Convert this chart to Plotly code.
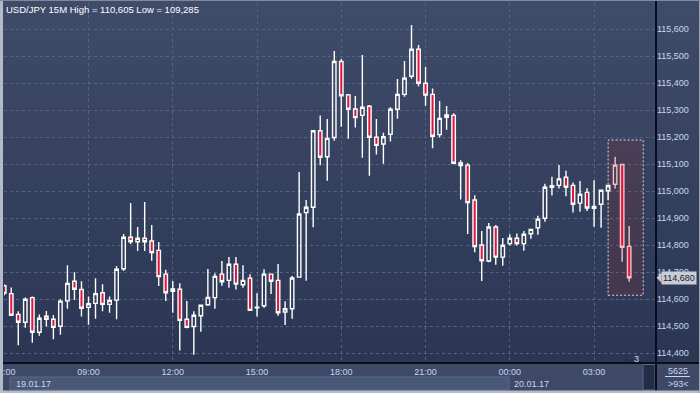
import pandas as pd
import plotly.graph_objects as go

# ---------------- data (USD/JPY 15M, 19.01.17 06:00 -> 20.01.17 04:15) ----------------
start_time = "2017-01-19 06:00"
opens = [114.650, 114.621, 114.544, 114.515, 114.606, 114.478, 114.537, 114.526, 114.500, 114.594,
         114.667, 114.636, 114.570, 114.585, 114.624, 114.581, 114.597, 114.713, 114.830, 114.813,
         114.826, 114.816, 114.781, 114.693, 114.630, 114.637, 114.526, 114.499, 114.539, 114.580,
         114.606, 114.693, 114.670, 114.730, 114.654, 114.678, 114.568, 114.576, 114.693, 114.670,
         114.553, 114.565, 114.682, 114.921, 114.941, 115.224, 115.128, 115.199, 115.481, 115.357,
         115.305, 115.281, 115.315, 115.200, 115.175, 115.211, 115.304, 115.359, 115.426, 115.526,
         115.400, 115.359, 115.210, 115.274, 115.281, 115.105, 115.097, 114.968, 114.801, 114.742,
         114.868, 114.756, 114.806, 114.826, 114.806, 114.843, 114.865, 114.900, 115.015, 115.022,
         115.052, 115.022, 114.956, 114.996, 114.937, 114.952, 115.002, 115.026, 115.099, 114.796]
highs = [114.655, 114.644, 114.556, 114.607, 114.610, 114.544, 114.557, 114.542, 114.600, 114.726,
         114.700, 114.667, 114.610, 114.678, 114.656, 114.610, 114.723, 114.842, 114.957, 114.868,
         114.960, 114.875, 114.812, 114.709, 114.668, 114.659, 114.594, 114.556, 114.580, 114.712,
         114.696, 114.742, 114.757, 114.757, 114.726, 114.693, 114.622, 114.711, 114.695, 114.731,
         114.593, 114.686, 115.071, 114.968, 115.225, 115.281, 115.268, 115.520, 115.490, 115.360,
         115.353, 115.505, 115.320, 115.268, 115.217, 115.311, 115.416, 115.483, 115.616, 115.542,
         115.460, 115.381, 115.334, 115.316, 115.289, 115.115, 115.105, 114.985, 114.853, 114.883,
         114.875, 114.827, 114.841, 114.844, 114.853, 114.860, 114.909, 115.028, 115.054, 115.097,
         115.076, 115.033, 115.038, 115.011, 115.041, 115.005, 115.023, 115.128, 115.101, 114.871]
lows = [114.615, 114.540, 114.430, 114.495, 114.439, 114.465, 114.499, 114.452, 114.469, 114.565,
        114.597, 114.536, 114.506, 114.528, 114.556, 114.550, 114.526, 114.705, 114.805, 114.779,
        114.779, 114.743, 114.649, 114.594, 114.550, 114.410, 114.493, 114.395, 114.480, 114.576,
        114.565, 114.650, 114.643, 114.636, 114.643, 114.557, 114.536, 114.569, 114.620, 114.539,
        114.505, 114.528, 114.680, 114.669, 114.867, 115.096, 115.039, 115.187, 115.239, 115.195,
        115.236, 115.124, 115.058, 115.136, 115.102, 115.184, 115.269, 115.350, 115.417, 115.389,
        115.317, 115.159, 115.199, 115.228, 115.100, 114.970, 114.842, 114.774, 114.668, 114.737,
        114.728, 114.724, 114.799, 114.799, 114.780, 114.824, 114.839, 114.887, 114.984, 115.010,
        114.982, 114.921, 114.924, 114.927, 114.869, 114.865, 114.968, 115.010, 114.739, 114.665]
closes = [114.622, 114.541, 114.515, 114.600, 114.478, 114.530, 114.526, 114.496, 114.593, 114.659,
          114.637, 114.567, 114.584, 114.621, 114.581, 114.596, 114.711, 114.830, 114.813, 114.826,
          114.813, 114.773, 114.684, 114.624, 114.638, 114.522, 114.496, 114.541, 114.578, 114.607,
          114.685, 114.665, 114.730, 114.656, 114.670, 114.559, 114.571, 114.693, 114.667, 114.550,
          114.565, 114.679, 114.916, 114.941, 115.224, 115.126, 115.196, 115.481, 115.354, 115.304,
          115.273, 115.311, 115.200, 115.170, 115.202, 115.304, 115.359, 115.419, 115.526, 115.400,
          115.356, 115.204, 115.270, 115.283, 115.104, 115.095, 114.958, 114.795, 114.743, 114.868,
          114.756, 114.800, 114.826, 114.806, 114.841, 114.859, 114.897, 115.015, 115.021, 115.046,
          115.015, 114.952, 114.989, 114.938, 114.944, 115.004, 115.022, 115.097, 114.793, 114.680]
highlight_count = 3  # last candles inside the highlighted box

x_tick_vals = ["2017-01-19 06:00", "2017-01-19 09:00", "2017-01-19 12:00", "2017-01-19 15:00",
               "2017-01-19 18:00", "2017-01-19 21:00", "2017-01-20 00:00", "2017-01-20 03:00"]
x_tick_text = ["06:00", "09:00", "12:00", "15:00", "18:00", "21:00", "00:00", "03:00"]
y_tick_vals = [114.4, 114.5, 114.6, 114.7, 114.8, 114.9, 115.0, 115.1, 115.2, 115.3, 115.4, 115.5, 115.6]
y_tick_text = ["114,400", "114,500", "114,600", "114,700", "114,800", "114,900", "115,000",
               "115,100", "115,200", "115,300", "115,400", "115,500", "115,600"]
title_text = "USD/JPY 15M High = 110,605 Low = 109,285"
date_labels = ["19.01.17", "20.01.17"]
corner_top, corner_bottom = "5625", ">93<"
count_label = "3"

times = pd.date_range(start=start_time, periods=len(opens), freq="15min")

# ---------------- geometry helpers ----------------
WIDTH, HEIGHT = 700, 393
ML, MT, MR, MB = 4, 3, 44, 30
PW, PH = WIDTH - ML - MR, HEIGHT - MT - MB
Y_RANGE = [114.364, 115.6974]


def px(x):
    return (x - ML) / PW


def py(y):
    return (MT + PH - y) / PH


FONT = "Liberation Sans"
LABEL_COL = "#c8d6f0"
RED = "#e2163c"
PINK = "#f4c2c6"

n_main = len(opens) - highlight_count
fig = go.Figure()
fig.add_trace(go.Candlestick(
    x=times[:n_main], open=opens[:n_main], high=highs[:n_main], low=lows[:n_main], close=closes[:n_main],
    increasing=dict(line=dict(color="#ffffff", width=1.4), fillcolor="rgba(0,0,0,0)"),
    decreasing=dict(line=dict(color="#ffffff", width=1.4), fillcolor=RED),
    showlegend=False, hoverinfo="skip"))
fig.add_trace(go.Candlestick(
    x=times[n_main:], open=opens[n_main:], high=highs[n_main:], low=lows[n_main:], close=closes[n_main:],
    increasing=dict(line=dict(color=PINK, width=1.4), fillcolor="rgba(0,0,0,0)"),
    decreasing=dict(line=dict(color=PINK, width=1.4), fillcolor=RED),
    showlegend=False, hoverinfo="skip"))

shapes = []
# background gradient (chart + right axis area)
top_c, bot_c = (63, 76, 105), (42, 54, 84)
nb = 24
for i in range(nb):
    t = i / (nb - 1)
    c = tuple(round(top_c[k] + (bot_c[k] - top_c[k]) * t) for k in range(3))
    y0 = 363 * i / nb
    y1 = 363 * (i + 1) / nb + 0.5
    shapes.append(dict(type="rect", xref="paper", yref="paper", x0=px(0), x1=px(700),
                       y0=py(y1), y1=py(y0), fillcolor="rgb(%d,%d,%d)" % c, line_width=0, layer="below"))

# highlight box around last candles
shapes.append(dict(type="rect", xref="x", yref="y",
                   x0=times[n_main - 1], x1=times[-1] + pd.Timedelta(minutes=30),
                   y0=114.615, y1=115.19,
                   fillcolor="rgba(116,50,66,0.32)", line=dict(color="#e6d6dc", width=1, dash="2px,2px"),
                   layer="below"))

# date strip
shapes.append(dict(type="rect", xref="paper", yref="paper", x0=px(10), x1=px(509),
                   y0=py(390), y1=py(377), fillcolor="#4a5877", line=dict(color="#5c6a88", width=1),
                   layer="above"))
# scroll piece
shapes.append(dict(type="rect", xref="paper", yref="paper", x0=px(643), x1=px(655),
                   y0=py(390), y1=py(364.5), fillcolor="#232d45", line=dict(color="#5c6a88", width=1),
                   layer="above"))
# divider in the corner box
shapes.append(dict(type="line", xref="paper", yref="paper", x0=px(665), x1=px(690),
                   y0=py(376.5), y1=py(376.5), line=dict(color=LABEL_COL, width=1), layer="above"))
# little triangle next to the "3"
shapes.append(dict(type="path", xref="paper", yref="paper",
                   path="M %f %f L %f %f L %f %f Z" % (px(622.5), py(362.5), px(627), py(357),
                                                      px(631.5), py(362.5)),
                   fillcolor="#26314b", line_width=0, layer="above"))
# black separator lines
shapes.append(dict(type="line", xref="paper", yref="paper", x0=px(0), x1=px(700),
                   y0=py(363), y1=py(363), line=dict(color="#0a0e17", width=2), layer="above"))
shapes.append(dict(type="line", xref="paper", yref="paper", x0=px(656), x1=px(656),
                   y0=py(393), y1=py(0), line=dict(color="#0a0e17", width=2), layer="above"))
# outer frame
shapes.append(dict(type="rect", xref="paper", yref="paper", x0=px(0), x1=px(3),
                   y0=py(393), y1=py(0), fillcolor="#b3bbc9", line_width=0, layer="above"))
shapes.append(dict(type="rect", xref="paper", yref="paper", x0=px(0), x1=px(700),
                   y0=py(393), y1=py(390.5), fillcolor="#b3bbc9", line_width=0, layer="above"))
shapes.append(dict(type="rect", xref="paper", yref="paper", x0=px(699), x1=px(700),
                   y0=py(393), y1=py(0), fillcolor="#9aa3b4", line_width=0, layer="above"))
shapes.append(dict(type="rect", xref="paper", yref="paper", x0=px(0), x1=px(700),
                   y0=py(1), y1=py(0), fillcolor="#7f899c", line_width=0, layer="above"))

# last price tag pointer
last_close = closes[-1]
dy = 5 / (PH / (Y_RANGE[1] - Y_RANGE[0]))
shapes.append(dict(type="path", xref="paper", yref="y",
                   path="M %f %f L %f %f L %f %f Z" % (px(656.5), last_close, px(661.5), last_close + dy,
                                                      px(661.5), last_close - dy),
                   fillcolor="#c9ccd3", line_width=0, layer="above"))

annotations = [
    dict(text=title_text, xref="paper", yref="paper", x=px(4), y=py(9), xanchor="left", yanchor="middle",
         showarrow=False, font=dict(family=FONT, size=9.5, color="#ffffff")),
    dict(text=date_labels[0], xref="paper", yref="paper", x=px(14), y=py(383.5), xanchor="left",
         yanchor="middle", showarrow=False, font=dict(family=FONT, size=9, color=LABEL_COL)),
    dict(text=date_labels[1], xref="paper", yref="paper", x=px(512), y=py(383.5), xanchor="left",
         yanchor="middle", showarrow=False, font=dict(family=FONT, size=9, color=LABEL_COL)),
    dict(text=corner_top, xref="paper", yref="paper", x=px(678), y=py(370.5), xanchor="center",
         yanchor="middle", showarrow=False, font=dict(family=FONT, size=9, color=LABEL_COL)),
    dict(text=corner_bottom, xref="paper", yref="paper", x=px(678), y=py(383.5), xanchor="center",
         yanchor="middle", showarrow=False, font=dict(family=FONT, size=9, color=LABEL_COL)),
    dict(text=count_label, xref="paper", yref="paper", x=px(636), y=py(358.5), xanchor="center",
         yanchor="middle", showarrow=False, font=dict(family=FONT, size=9, color=LABEL_COL)),
    dict(text=("%.3f" % last_close).replace(".", ","), xref="paper", yref="y", x=px(661), y=last_close,
         xanchor="left", yanchor="middle", showarrow=False, bgcolor="#c9ccd3", borderpad=1,
         font=dict(family=FONT, size=9, color="#17213a")),
]

fig.update_layout(
    width=WIDTH, height=HEIGHT,
    margin=dict(l=ML, r=MR, t=MT, b=MB, pad=0),
    paper_bgcolor="#3d4967", plot_bgcolor="rgba(0,0,0,0)",
    font=dict(family=FONT, size=9, color=LABEL_COL),
    shapes=shapes, annotations=annotations,
    xaxis=dict(type="date", range=["2017-01-19 05:59:30", "2017-01-20 05:12:18"],
               tickvals=x_tick_vals, ticktext=x_tick_text, ticks="", showline=False, zeroline=False,
               showgrid=True, gridcolor="#56637f", gridwidth=1, griddash="3px,3px",
               rangeslider=dict(visible=False), tickfont=dict(family=FONT, size=9, color=LABEL_COL),
               ticklabelstandoff=2, ticklabeloverflow="allow", automargin=False, fixedrange=True),
    yaxis=dict(side="right", range=Y_RANGE, tickvals=y_tick_vals, ticktext=y_tick_text,
               ticks="", showline=False, zeroline=False, showgrid=True, gridcolor="#56637f", gridwidth=1,
               griddash="3px,3px", tickfont=dict(family=FONT, size=9, color=LABEL_COL),
               automargin=False, fixedrange=True),
)

fig.write_html("out.html", config={"displayModeBar": False},
               post_script="document.body.style.margin='0';document.body.style.overflow='hidden';")
